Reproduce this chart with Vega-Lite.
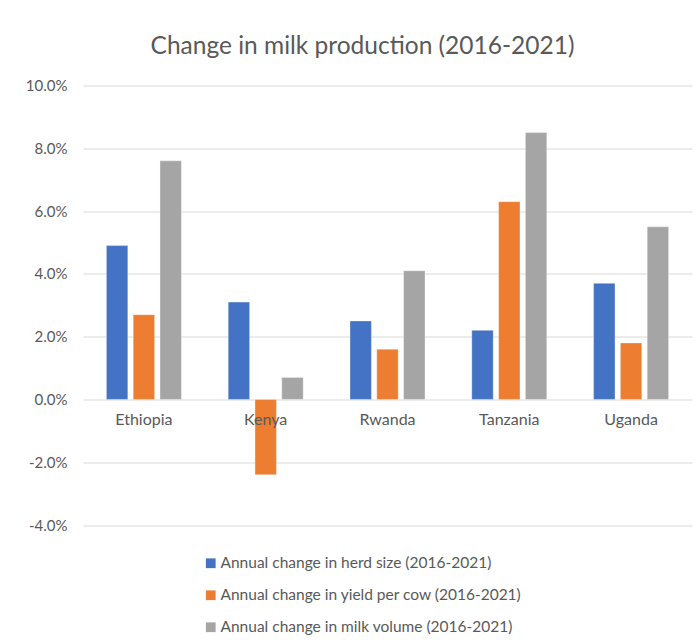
{
  "$schema": "https://vega.github.io/schema/vega-lite/v6.json",
  "width": 609,
  "height": 439.5,
  "autosize": {"type": "none"},
  "padding": {"left": 83, "top": 85.5, "right": 7, "bottom": 118},
  "background": "white",
  "title": {
    "text": "Change in milk production (2016-2021)",
    "font": "Lato",
    "fontSize": 24.5,
    "fontWeight": "normal",
    "color": "#595959",
    "anchor": "middle",
    "dx": -25,
    "offset": 19
  },
  "data": {
    "values": [
      {"country": "Ethiopia", "series": "Annual change in herd size (2016-2021)", "value": 0.049},
      {"country": "Ethiopia", "series": "Annual change in yield per cow (2016-2021)", "value": 0.027},
      {"country": "Ethiopia", "series": "Annual change in milk volume (2016-2021)", "value": 0.076},
      {"country": "Kenya", "series": "Annual change in herd size (2016-2021)", "value": 0.031},
      {"country": "Kenya", "series": "Annual change in yield per cow (2016-2021)", "value": -0.024},
      {"country": "Kenya", "series": "Annual change in milk volume (2016-2021)", "value": 0.007},
      {"country": "Rwanda", "series": "Annual change in herd size (2016-2021)", "value": 0.025},
      {"country": "Rwanda", "series": "Annual change in yield per cow (2016-2021)", "value": 0.016},
      {"country": "Rwanda", "series": "Annual change in milk volume (2016-2021)", "value": 0.041},
      {"country": "Tanzania", "series": "Annual change in herd size (2016-2021)", "value": 0.022},
      {"country": "Tanzania", "series": "Annual change in yield per cow (2016-2021)", "value": 0.063},
      {"country": "Tanzania", "series": "Annual change in milk volume (2016-2021)", "value": 0.085},
      {"country": "Uganda", "series": "Annual change in herd size (2016-2021)", "value": 0.037},
      {"country": "Uganda", "series": "Annual change in yield per cow (2016-2021)", "value": 0.018},
      {"country": "Uganda", "series": "Annual change in milk volume (2016-2021)", "value": 0.055}
    ]
  },
  "mark": {"type": "bar", "stroke": "white", "strokeWidth": 0.6, "strokeOpacity": 0.6},
  "encoding": {
    "x": {
      "field": "country",
      "type": "nominal",
      "sort": ["Ethiopia", "Kenya", "Rwanda", "Tanzania", "Uganda"],
      "scale": {"paddingInner": 0.384, "paddingOuter": 0.192},
      "axis": {
        "title": null,
        "orient": "bottom",
        "offset": -125.3,
        "zindex": 1,
        "domain": false,
        "ticks": false,
        "labelAngle": 0,
        "labelFont": "Lato",
        "labelFontSize": 16,
        "labelColor": "#595959",
        "labelPadding": 12,
        "grid": false
      }
    },
    "xOffset": {
      "field": "series",
      "type": "nominal",
      "sort": ["Annual change in herd size (2016-2021)", "Annual change in yield per cow (2016-2021)", "Annual change in milk volume (2016-2021)"],
      "scale": {"paddingInner": 0.2, "paddingOuter": 0}
    },
    "y": {
      "field": "value",
      "type": "quantitative",
      "scale": {"domain": [-0.04, 0.1], "nice": false},
      "axis": {
        "title": null,
        "format": ".1%",
        "labelExpr": "replace(datum.label, '−', '-')",
        "values": [-0.04, -0.02, 0, 0.02, 0.04, 0.06, 0.08, 0.1],
        "domain": false,
        "ticks": false,
        "labelFont": "Lato",
        "labelFontSize": 15,
        "labelColor": "#595959",
        "labelPadding": 16,
        "gridColor": "#d9d9d9",
        "gridWidth": 1.2
      }
    },
    "color": {
      "field": "series",
      "type": "nominal",
      "scale": {
        "domain": ["Annual change in herd size (2016-2021)", "Annual change in yield per cow (2016-2021)", "Annual change in milk volume (2016-2021)"],
        "range": ["#4472C4", "#ED7D31", "#A5A5A5"]
      },
      "legend": {
        "title": null,
        "orient": "none",
        "direction": "vertical",
        "legendX": 120,
        "legendY": 470,
        "symbolType": "square",
        "symbolSize": 95,
        "symbolStrokeWidth": 0,
        "labelFont": "Lato",
        "labelFontSize": 15.5,
        "labelColor": "#595959",
        "labelOffset": 2,
        "labelLimit": 400,
        "rowPadding": 15
      }
    }
  },
  "config": {
    "view": {"stroke": null}
  }
}
